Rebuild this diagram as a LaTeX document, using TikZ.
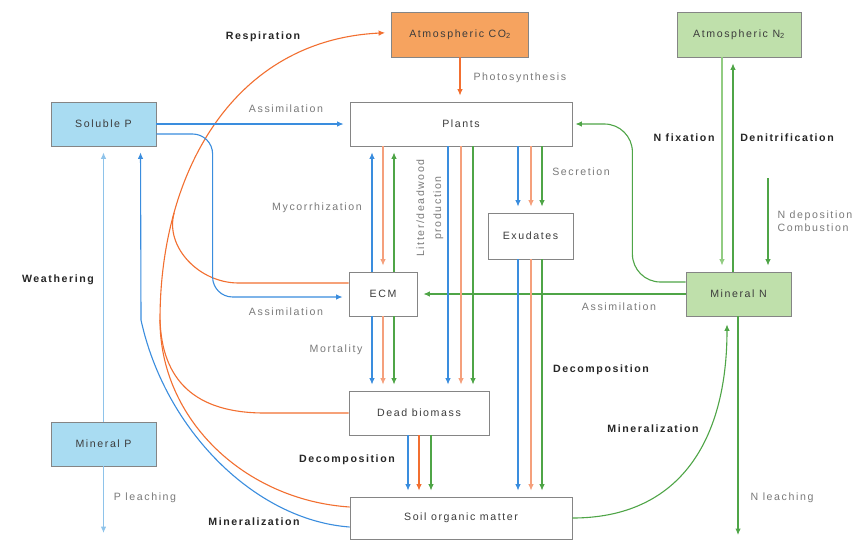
\documentclass[tikz,border=0pt]{standalone}
\usepackage{fontspec}
\setmainfont[LetterSpace=15]{Liberation Sans}
\usetikzlibrary{arrows.meta}

\definecolor{cblue}{HTML}{3A8DDE}
\definecolor{cbluelt}{HTML}{8EC3EA}
\definecolor{corange}{HTML}{F26F30}
\definecolor{corangelt}{HTML}{F5A07C}
\definecolor{cgreen}{HTML}{4FA547}
\definecolor{cgreenlt}{HTML}{92CC82}
\definecolor{fillco}{HTML}{F6A35F}
\definecolor{filln}{HTML}{BFE0AB}
\definecolor{fillp}{HTML}{A9DCF2}
\definecolor{edge}{HTML}{858585}
\definecolor{boxtext}{HTML}{3C3C3C}
\definecolor{lbl}{HTML}{7A7A7A}

\begin{document}
\begin{tikzpicture}[x=1pt,y=-1pt,
  font=\fontsize{10.6}{12.5}\selectfont,
  box/.style={draw=edge, line width=0.8pt, text=boxtext, inner sep=0pt, fill=white},
  flowbase/.style={line width=1.1pt, -{Latex[length=6.5pt,width=5.5pt]}},
  flow/.style={flowbase, shorten >=6pt},
  bflow/.style={flow, draw=cblue},
  bltflow/.style={flow, draw=cbluelt},
  oflow/.style={flow, draw=corange},
  oltflow/.style={flow, draw=corangelt},
  gflow/.style={flow, draw=cgreen},
  gltflow/.style={flow, draw=cgreenlt},
  oline/.style={line width=1.1pt, draw=corange},
  lab/.style={text=lbl},
  bold/.style={font=\fontsize{10.6}{12.5}\selectfont\bfseries, text=black!85}]

\useasboundingbox (0,0) rectangle (858,544);
\fill[white] (0,0) rectangle (858,544);

% ---------- pools ----------
\node[box, fill=fillco, minimum width=137pt, minimum height=45pt] (co2) at (460,34.5) {Atmospheric CO\textsubscript{2}};
\node[box, fill=filln, minimum width=124pt, minimum height=45pt] (n2) at (739,34.5) {Atmospheric N\textsubscript{2}};
\node[box, minimum width=222pt, minimum height=44pt] (plants) at (461,124) {Plants};
\node[box, fill=fillp, minimum width=105pt, minimum height=44pt] (sp) at (103.5,124) {Soluble P};
\node[box, minimum width=68pt, minimum height=44pt] (ecm) at (383,294) {ECM};
\node[box, minimum width=85pt, minimum height=46pt] (exu) at (530.5,236) {Exudates};
\node[box, fill=filln, minimum width=105pt, minimum height=44pt] (mn) at (738.5,294) {Mineral N};
\node[box, minimum width=140pt, minimum height=44pt] (dead) at (419,413) {Dead biomass};
\node[box, fill=fillp, minimum width=105pt, minimum height=44pt] (mp) at (103.5,444) {Mineral P};
\node[box, minimum width=222pt, minimum height=42pt] (soil) at (461,518) {Soil organic matter};

% free ends and turning points
\coordinate (pleach) at (103.5,533);
\coordinate (nleach) at (738,535);
\coordinate (ndep) at (768,178);
\coordinate (rmerge) at (160,320);

% ---------- carbon ----------
\draw[oflow] (co2.south) -- (co2.south |- plants.north);
\draw[oflow] ([yshift=11pt]soil.west) .. controls (245,500) and (160,420) .. (rmerge)
  .. controls (160,170) and (235,40) .. ([yshift=2pt]co2.west) coordinate[pos=0.25] (rjoin);
\draw[oline] (dead.west) -- ++(-84,0) .. controls +(-70,0) and +(2,60) .. (rmerge);
\draw[oline] ([yshift=11pt]ecm.west) -- ++(-110,0) .. controls +(-40,0) and +(-9.5,33.6) .. (rjoin);

% ---------- phosphorus ----------
\draw[bflow] (sp.east) -- (plants.west);
\draw[bflow, rounded corners=20pt] ([yshift=-10pt]sp.east) -| ([xshift=-136pt,yshift=-3pt]ecm.west) -- ([yshift=-3pt]ecm.west);
\draw[bltflow] (mp.north) -- (sp.south);
\draw[line width=1.1pt, draw=cbluelt, -{Latex[length=6.5pt,width=5.5pt]}] (mp.south) -- (pleach);
\draw[bflow] ([yshift=-9pt]soil.west) .. controls (255,520) and (165,430) .. (141,320) -- ([xshift=37pt]sp.south);

% ---------- nitrogen ----------
\draw[gltflow] (n2.south -| 722,0) -- (mn.north -| 722,0);
\draw[gflow] (mn.north -| 733,0) -- (n2.south -| 733,0);
\draw[gflow] (ndep) -- (mn.north -| ndep);
\draw[gflow] (mn.west) -- (ecm.east);
\draw[gflow, shorten >=3pt, rounded corners=28pt] ([yshift=12pt]mn.west) -| ([xshift=60pt]plants.east) -- (plants.east);
\draw[gflow, shorten >=8pt] (soil.east) .. controls (680,518) and (727,440) .. (mn.south -| 727,0);
\draw[line width=1.1pt, draw=cgreen, -{Latex[length=6.5pt,width=5.5pt]}] (mn.south -| nleach) -- (nleach);

% ---------- transfers between living and dead pools ----------
% plants <-> ECM
\draw[bflow] (ecm.north -| 372,0) -- (plants.south -| 372,0);
\draw[oltflow] (plants.south -| 383,0) -- (ecm.north -| 383,0);
\draw[gflow] (ecm.north -| 394,0) -- (plants.south -| 394,0);
% ECM -> dead biomass
\draw[bflow] (ecm.south -| 372,0) -- (dead.north -| 372,0);
\draw[oltflow] (ecm.south -| 383,0) -- (dead.north -| 383,0);
\draw[gflow] (ecm.south -| 394,0) -- (dead.north -| 394,0);
% litter and deadwood
\draw[bflow] (plants.south -| 448,0) -- (dead.north -| 448,0);
\draw[oltflow] (plants.south -| 461,0) -- (dead.north -| 461,0);
\draw[gflow] (plants.south -| 473,0) -- (dead.north -| 473,0);
% secretion
\draw[bflow] (plants.south -| 518,0) -- (exu.north -| 518,0);
\draw[oltflow] (plants.south -| 531,0) -- (exu.north -| 531,0);
\draw[gflow] (plants.south -| 542,0) -- (exu.north -| 542,0);
% exudates -> soil
\draw[bflow] (exu.south -| 518,0) -- (soil.north -| 518,0);
\draw[oltflow] (exu.south -| 531,0) -- (soil.north -| 531,0);
\draw[gflow] (exu.south -| 542,0) -- (soil.north -| 542,0);
% dead biomass -> soil
\draw[bflow] (dead.south -| 408,0) -- (soil.north -| 408,0);
\draw[oflow] (dead.south -| 419,0) -- (soil.north -| 419,0);
\draw[gflow] (dead.south -| 431,0) -- (soil.north -| 431,0);

% ---------- labels ----------
\node[bold] (lresp) at (263,37) {Respiration};
\node[lab, anchor=west] (lphot) at (470,78) {Photosynthesis};
\node[lab] (lass1) at (286,109) {Assimilation};
\node[bold] (lnfix) at (684,138) {N fixation};
\node[bold] (ldenit) at (787,138) {Denitrification};
\node[lab] (lsecr) at (581,172) {Secretion};
\node[lab] (lmyc) at (317,208) {Mycorrhization};
\node[lab, rotate=90, align=center, font=\fontsize{10.6}{17}\selectfont] (llit) at (430,208) {Litter/deadwood\\production};
\node[lab, anchor=west, align=left] (lndep) at (774,221) {N deposition\\Combustion};
\node[bold] (lweath) at (58,280) {Weathering};
\node[lab] (lass2) at (619,307) {Assimilation};
\node[lab] (lass3) at (286,312) {Assimilation};
\node[lab] (lmort) at (336,350) {Mortality};
\node[bold] (ldec1) at (601,370) {Decomposition};
\node[bold] (lmin1) at (653,429) {Mineralization};
\node[bold] (ldec2) at (347,460) {Decomposition};
\node[lab] (lpl) at (145,498) {P leaching};
\node[lab] (lnl) at (782,498) {N leaching};
\node[bold] (lmin2) at (254,522) {Mineralization};

\end{tikzpicture}
\end{document}
